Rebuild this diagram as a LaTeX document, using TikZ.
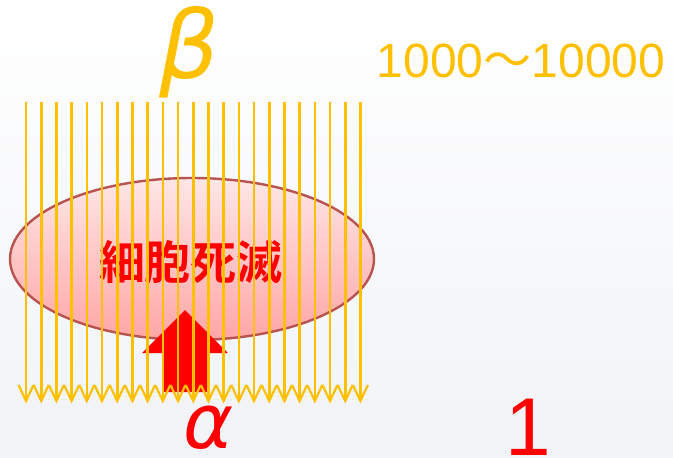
\documentclass[tikz,border=0pt]{standalone}
\usepackage{fontspec}
\setmainfont{Liberation Sans}
\newfontfamily\jpfont[BoldFont={Noto Sans CJK JP Bold}]{Noto Sans CJK JP}
\newfontfamily\greekfont{DejaVu Sans}
\definecolor{raygold}{HTML}{FFC000}
\definecolor{cellborder}{HTML}{B85450}
\definecolor{celltop}{HTML}{FFE6E6}
\definecolor{cellbottom}{HTML}{FFA6A6}
\definecolor{bgbottom}{HTML}{F1F3F7}
\definecolor{hitred}{HTML}{FF0000}
\usetikzlibrary{arrows.meta, shapes.geometric}

\begin{document}
\begin{tikzpicture}[x=1pt, y=-1pt,
    ray/.style={raygold, line width=2.6pt},
    barb/.style={raygold, line width=2.2pt, line join=miter},
    cell/.style={ellipse, draw=cellborder, line width=2.4pt, top color=celltop, bottom color=cellbottom,
      minimum width=364pt, minimum height=162pt, inner sep=0pt},
    bottomlabel/.style={text=hitred, anchor=base, inner sep=0pt, text depth=0pt}]
  % background
  \shade[top color=white, bottom color=bgbottom] (0,0) rectangle (673,458);
  \node[cell] (cell) at (192,259) {};
  \node[font=\jpfont\bfseries\fontsize{46}{46}\selectfont, text=hitred] (death) at (191,262) {細胞死滅};
  % block arrow
  \fill[hitred] (163,392) -- (163,353) -- (142,353) -- (185,310) -- (228,353) -- (207,353) -- (207,392) -- cycle;
  % beta rays
  \foreach \i in {0,...,22} {
    \draw[ray] ({26+15.2*\i},102) -- ({26+15.2*\i},400);
    \draw[barb] ({18.5+15.2*\i},385) -- ({26+15.2*\i},401) -- ({33.5+15.2*\i},385);
  }
  \node[font=\greekfont\itshape\fontsize{94}{94}\selectfont, text=raygold] (beta) at (189,52) {β};
  \node[font=\greekfont\itshape\fontsize{76}{76}\selectfont, bottomlabel] (alpha) at (209,448) {α};
  \node[font=\fontsize{48}{48}\selectfont, text=raygold, anchor=base] (betacount) at (521,77) {1000{\jpfont ～}10000};
  \node[font=\fontsize{82}{82}\selectfont, bottomlabel] (alphacount) at (528,455) {1};
\end{tikzpicture}
\end{document}
